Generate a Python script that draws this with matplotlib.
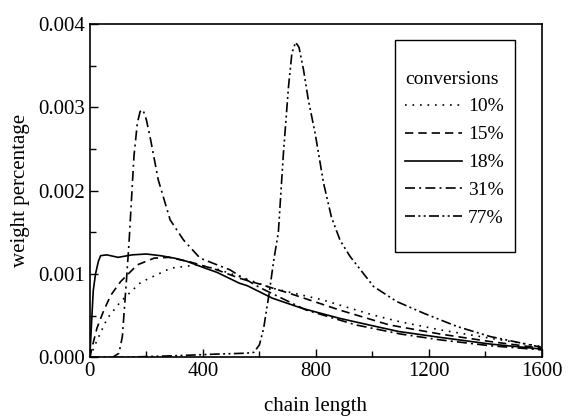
import matplotlib.pyplot as plt
from matplotlib.patches import Rectangle
from matplotlib.ticker import MultipleLocator

plt.rcParams['font.family'] = ['Liberation Serif', 'DejaVu Serif']

# conversion 10 %
x10 = [0, 10, 26, 62, 109, 180, 286, 380, 450, 529, 646, 823, 1000, 1094, 1240, 1417, 1600]
y10 = [0, 0.08, 0.21, 0.47, 0.67, 0.90, 1.07, 1.11, 1.06, 0.97, 0.83, 0.69, 0.51, 0.43, 0.33, 0.23, 0.13]

# conversion 15 %
x15 = [0, 10, 25, 50, 75, 109, 168, 227, 280, 350, 450, 529, 600, 705, 882, 1059, 1240, 1417, 1600]
y15 = [0, 0.15, 0.35, 0.57, 0.75, 0.91, 1.11, 1.19, 1.20, 1.15, 1.05, 0.95, 0.88, 0.77, 0.57, 0.39, 0.28, 0.19, 0.11]

# conversion 18 %
x18 = [0, 5, 12, 20, 30, 38, 60, 100, 150, 200, 250, 300, 345, 400, 450, 529, 557, 646, 750, 882,
       1000, 1094, 1240, 1417, 1600]
y18 = [0, 0.35, 0.8, 1.0, 1.15, 1.22, 1.23, 1.20, 1.23, 1.24, 1.22, 1.19, 1.15, 1.08, 1.02, 0.89, 0.86,
       0.71, 0.59, 0.47, 0.38, 0.31, 0.24, 0.16, 0.10]

# conversion 31 %
x31 = [0, 80, 103, 115, 121, 130, 139, 156, 168, 178, 188, 200, 215, 242, 284, 331, 390, 496,
       529, 600, 764, 941, 1100, 1240, 1417, 1600]
y31 = [0, 0, 0.05, 0.25, 0.53, 0.95, 1.40, 2.41, 2.81, 2.95, 2.97, 2.85, 2.61, 2.13, 1.65, 1.41,
       1.19, 1.05, 0.98, 0.84, 0.57, 0.39, 0.28, 0.21, 0.14, 0.09]

# conversion 77 %
x77 = [0, 100, 300, 450, 550, 580, 600, 615, 635, 650, 667, 685, 703, 715, 728, 740, 756, 773, 797,
       827, 855, 886, 921, 1004, 1086, 1181, 1300, 1417, 1600]
y77 = [0, 0, 0.02, 0.04, 0.05, 0.06, 0.15, 0.35, 0.78, 1.15, 1.5, 2.45, 3.25, 3.65, 3.78, 3.72, 3.45,
       3.09, 2.69, 2.09, 1.68, 1.40, 1.21, 0.85, 0.67, 0.53, 0.37, 0.25, 0.12]

series = [
    (x10, y10, '10%', (0, (1, 3.5))),
    (x15, y15, '15%', (0, (5, 3))),
    (x18, y18, '18%', '-'),
    (x31, y31, '31%', (0, (6, 2.5, 1.2, 2.5))),
    (x77, y77, '77%', (0, (6, 2, 1.2, 2, 1.2, 2))),
]

fig = plt.figure(figsize=(5.76, 4.19), dpi=100)
ax = fig.add_axes([0.156, 0.147, 0.785, 0.796])

for xs, ys, lab, ls in series:
    ax.plot(xs, [v / 1000 for v in ys], color='black', linestyle=ls, linewidth=1.2, label=lab)

ax.set_xlim(0, 1600)
ax.set_ylim(0, 0.004)
ax.xaxis.set_major_locator(MultipleLocator(400))
ax.xaxis.set_minor_locator(MultipleLocator(200))
ax.yaxis.set_major_locator(MultipleLocator(0.001))
ax.yaxis.set_minor_locator(MultipleLocator(0.0005))
ax.yaxis.set_major_formatter(plt.FormatStrFormatter('%.3f'))
ax.tick_params(which='both', direction='in', top=False, right=False, labelsize=15)
ax.tick_params(which='major', length=6, width=1)
ax.tick_params(which='minor', length=4, width=1)
for sp in ax.spines.values():
    sp.set_linewidth(1.2)

ax.set_xlabel('chain length', fontsize=15, labelpad=11)
ax.set_ylabel('weight percentage', fontsize=15, labelpad=6)

# legend box drawn separately so its padding matches the original
ax.add_patch(Rectangle((0.674, 0.317), 0.267, 0.635, transform=ax.transAxes,
                       facecolor='white', edgecolor='black', linewidth=1.0, zorder=4))
leg = ax.legend(title='conversions', loc='upper left', bbox_to_anchor=(0.6975, 0.86),
                fontsize=14, title_fontsize=14, frameon=False, borderpad=0, borderaxespad=0,
                handlelength=2.94, handletextpad=0.3, labelspacing=0.53, alignment='left')
leg.set_zorder(5)

fig.savefig('out.png', dpi=100)
